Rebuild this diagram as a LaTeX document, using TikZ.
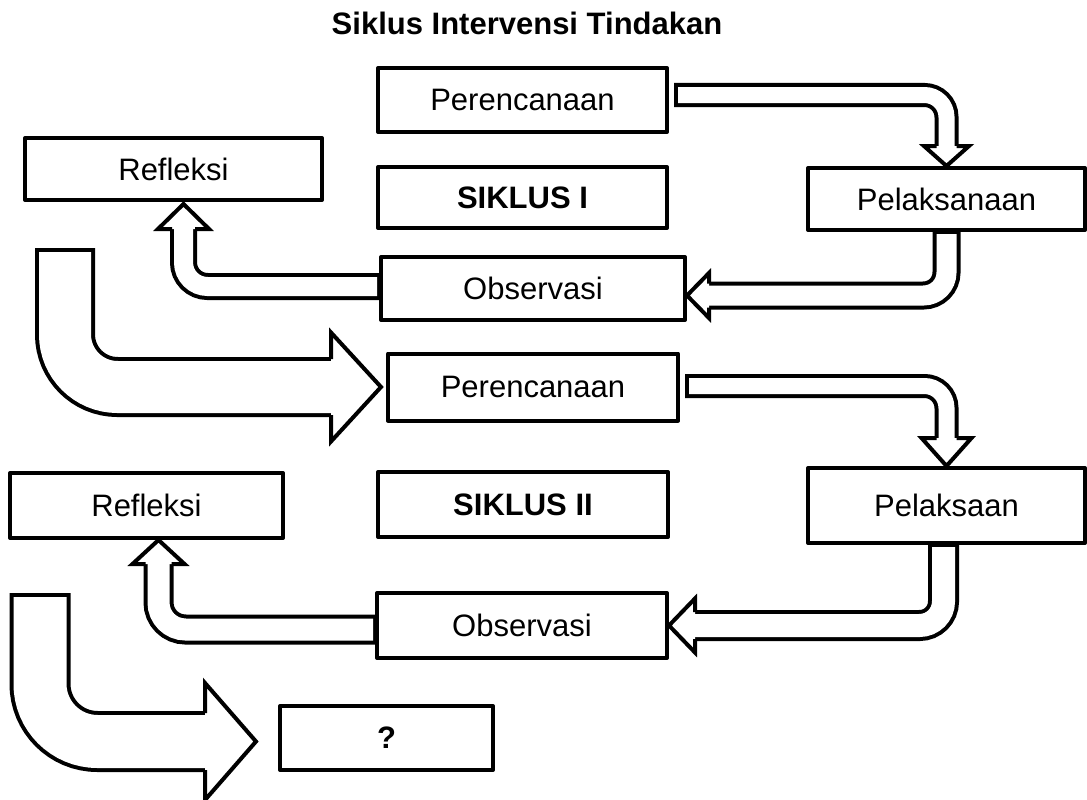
\documentclass[tikz,border=0pt]{standalone}
\usepackage{fontspec}
\setmainfont{Liberation Sans}
\usetikzlibrary{positioning,calc}

\begin{document}
\begin{tikzpicture}
  [x=1pt, y=-1pt,
   every node/.style={font=\fontsize{31}{37}\selectfont, inner sep=0pt},
   box/.style={draw, line width=4pt, line join=round},
   bold/.style={font=\bfseries\fontsize{31}{37}\selectfont},
   shaft/.style n args={3}{draw, line width=#1, postaction={draw=white, line width=#2, shorten <=#3}},
   pics/bhead/.style n args={3}{code={
     \fill[white] (0,-#2) -- (#1,0) -- (0,#2) -- cycle;
     \draw[line width=4pt, line join=miter] (0,-#3) -- (0,-#2) -- (#1,0) -- (0,#2) -- (0,#3);}}]
  \useasboundingbox (0,0) rectangle (1087,800);

  \node[bold, anchor=base] (title) at (527,35) {Siklus Intervensi Tindakan};

  % siklus I
  \node[box, minimum width=289pt, minimum height=64pt] (per1) at (522.5,100) {Perencanaan};
  \node[box, bold, minimum width=289pt, minimum height=61pt] (sik1) at (522.5,197.5) {SIKLUS I};
  \node[box, minimum width=297pt, minimum height=62pt] (ref1) at (173.5,169) {Refleksi};
  \node[box, minimum width=277pt, minimum height=62pt] (pel1) at (946.5,199) {Pelaksanaan};
  \node[box, minimum width=304pt, minimum height=63pt] (obs1) at (533,288.5) {Observasi};

  % siklus II
  \node[box, minimum width=290pt, minimum height=67pt] (per2) at (533,387) {Perencanaan};
  \node[box, bold, minimum width=290pt, minimum height=65pt] (sik2) at (523,504.5) {SIKLUS II};
  \node[box, minimum width=273pt, minimum height=65pt] (ref2) at (146.5,505.5) {Refleksi};
  \node[box, minimum width=277pt, minimum height=75pt] (pel2) at (946.5,505.5) {Pelaksaan};
  \node[box, minimum width=290pt, minimum height=65pt] (obs2) at (522,625.5) {Observasi};
  \node[box, bold, minimum width=213pt, minimum height=64pt] (q) at (386.5,738) {?};

  \coordinate (c1) at (65,248);
  \coordinate (c2) at (40,593);

  % arrows siklus I
  \draw[shaft={24pt}{16pt}{4pt}, rounded corners=22pt] ($(per1.east)+(5,-5)$) -| ($(pel1.north)+(0,-20)$);
  \pic[rotate=-90] at ($(pel1.north)+(0,-20)$) {bhead={20}{22.5}{10}};

  \draw[shaft={28pt}{20pt}{2pt}, rounded corners=23pt] (pel1.south) |- ($(obs1.east |- 0,295.5)+(22,0)$);
  \pic[rotate=180] at ($(obs1.east |- 0,295.5)+(22,0)$) {bhead={22}{22.5}{12}};

  \draw[shaft={27pt}{19pt}{2pt}, rounded corners=24pt] (obs1.west |- 0,286.5) -| ($(ref1.south)+(10,27)$);
  \pic[rotate=90] at ($(ref1.south)+(10,27)$) {bhead={25}{25.5}{11.5}};

  \draw[shaft={60pt}{52pt}{4pt}, rounded corners=52.5pt] (c1) |- ($(per2.west)+(-55,0)$);
  \pic at ($(per2.west)+(-55,0)$) {bhead={50}{54.5}{28}};

  % arrows siklus II
  \draw[shaft={24pt}{16pt}{4pt}, rounded corners=22pt] ($(per2.east)+(5,-1)$) -| ($(pel2.north)+(0,-28)$);
  \pic[rotate=-90] at ($(pel2.north)+(0,-28)$) {bhead={28}{25}{10}};

  \draw[shaft={31pt}{23pt}{2pt}, rounded corners=24pt] ($(pel2.south)+(-3,0)$) |- ($(obs2.east)+(26,0)$);
  \pic[rotate=180] at ($(obs2.east)+(26,0)$) {bhead={26}{27}{13.5}};

  \draw[shaft={30pt}{22pt}{2pt}, rounded corners=27pt] (obs2.west |- 0,629.5) -| ($(ref2.south)+(12,24)$);
  \pic[rotate=90] at ($(ref2.south)+(12,24)$) {bhead={24}{26}{13}};

  \draw[shaft={61pt}{53pt}{4pt}, rounded corners=57.5pt] (c2) |- ($(q.west)+(-73,3.5)$);
  \pic at ($(q.west)+(-73,3.5)$) {bhead={51}{58.5}{28.5}};
\end{tikzpicture}
\end{document}
